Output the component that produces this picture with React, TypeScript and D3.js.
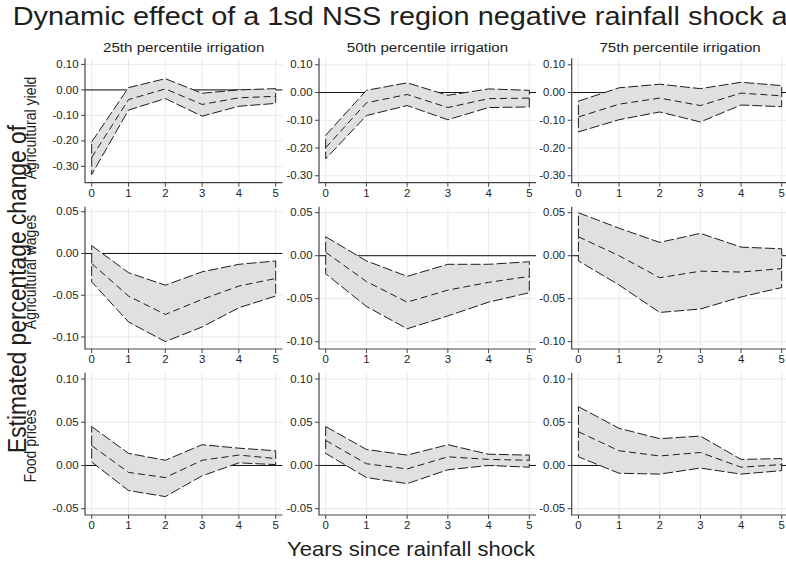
import React from "react";
import * as d3 from "d3";

// ---------- text ----------
const mainTitle = "Dynamic effect of a 1sd NSS region negative rainfall shock a";
const yTitle = "Estimated percentage change of";
const xTitle = "Years since rainfall shock";
const columnTitles = ["25th percentile irrigation", "50th percentile irrigation", "75th percentile irrigation"];
const rowTitles = ["Agricultural yield", "Agricultural wages", "Food prices"];

// ---------- x categories ----------
const years = [0, 1, 2, 3, 4, 5];

// ---------- y ticks per row ----------
const yieldTicks = [0.1, 0, -0.1, -0.2, -0.3];
const wagesTicks = [0.05, 0, -0.05, -0.1];
const pricesTicks = [0.1, 0.05, 0, -0.05];

// ---------- y ranges per panel ----------
const yieldDomains = [[-0.364, 0.124], [-0.325, 0.1234], [-0.325, 0.1234]];
const wagesDomains = [[-0.1144, 0.056], [-0.1085, 0.057], [-0.1085, 0.057]];
const pricesDomains = [[-0.0573, 0.1073], [-0.0573, 0.1073], [-0.0573, 0.1073]];

// ---------- Agricultural yield ----------
const yield25Upper = [-0.204, 0.009, 0.044, -0.013, 0.0, 0.005];
const yield25Mid = [-0.265, -0.038, 0.004, -0.057, -0.031, -0.025];
const yield25Lower = [-0.332, -0.079, -0.034, -0.103, -0.064, -0.053];

const yield50Upper = [-0.154, 0.008, 0.035, -0.01, 0.013, 0.008];
const yield50Mid = [-0.199, -0.037, -0.007, -0.054, -0.022, -0.02];
const yield50Lower = [-0.239, -0.083, -0.047, -0.098, -0.054, -0.052];

const yield75Upper = [-0.031, 0.017, 0.03, 0.014, 0.037, 0.025];
const yield75Mid = [-0.088, -0.042, -0.02, -0.047, -0.002, -0.012];
const yield75Lower = [-0.142, -0.098, -0.07, -0.106, -0.045, -0.051];

// ---------- Agricultural wages ----------
const wages25Upper = [0.0094, -0.023, -0.038, -0.022, -0.013, -0.009];
const wages25Mid = [-0.012, -0.051, -0.073, -0.055, -0.039, -0.03];
const wages25Lower = [-0.034, -0.082, -0.1055, -0.088, -0.065, -0.051];

const wages50Upper = [0.022, -0.006, -0.024, -0.01, -0.01, -0.007];
const wages50Mid = [0.004, -0.03, -0.054, -0.04, -0.031, -0.024];
const wages50Lower = [-0.021, -0.059, -0.085, -0.07, -0.054, -0.043];

const wages75Upper = [0.05, 0.032, 0.0155, 0.026, 0.01, 0.008];
const wages75Mid = [0.022, 0.0, -0.0256, -0.018, -0.019, -0.015];
const wages75Lower = [-0.006, -0.034, -0.066, -0.062, -0.048, -0.037];

// ---------- Food prices ----------
const prices25Upper = [0.045, 0.014, 0.006, 0.024, 0.02, 0.017];
const prices25Mid = [0.023, -0.008, -0.014, 0.006, 0.012, 0.008];
const prices25Lower = [0.004, -0.029, -0.036, -0.012, 0.003, 0.001];

const prices50Upper = [0.045, 0.0185, 0.012, 0.024, 0.013, 0.012];
const prices50Mid = [0.029, 0.002, -0.004, 0.01, 0.007, 0.006];
const prices50Lower = [0.014, -0.014, -0.021, -0.005, 0.0, -0.002];

const prices75Upper = [0.068, 0.043, 0.031, 0.034, 0.007, 0.008];
const prices75Mid = [0.039, 0.017, 0.011, 0.015, -0.002, 0.001];
const prices75Lower = [0.01, -0.009, -0.01, -0.003, -0.01, -0.006];

// ---------- assemble ----------
const rowsData = [
  {
    ticks: yieldTicks,
    domains: yieldDomains,
    panels: [
      [yield25Upper, yield25Mid, yield25Lower],
      [yield50Upper, yield50Mid, yield50Lower],
      [yield75Upper, yield75Mid, yield75Lower],
    ],
  },
  {
    ticks: wagesTicks,
    domains: wagesDomains,
    panels: [
      [wages25Upper, wages25Mid, wages25Lower],
      [wages50Upper, wages50Mid, wages50Lower],
      [wages75Upper, wages75Mid, wages75Lower],
    ],
  },
  {
    ticks: pricesTicks,
    domains: pricesDomains,
    panels: [
      [prices25Upper, prices25Mid, prices25Lower],
      [prices50Upper, prices50Mid, prices50Lower],
      [prices75Upper, prices75Mid, prices75Lower],
    ],
  },
];

// ---------- layout ----------
const W = 786;
const H = 563;
const SX = 1.12;
const FONT = "'Liberation Sans', Arial, Helvetica, sans-serif";
const cols = [
  { axisX: 85, right: 282.4 },
  { axisX: 319, right: 536 },
  { axisX: 571.7, right: 788.4 },
];
const rows = [
  { top: 58.3, bottom: 182.7, labelY: 128 },
  { top: 206.7, bottom: 349, labelY: 272 },
  { top: 372.7, bottom: 515, labelY: 446 },
];
const PAD = 6.7;
const INK = "#1e1e1e";

const fmt = d3
  .formatLocale({ decimal: ".", thousands: ",", grouping: [3], currency: ["", ""], minus: "-" })
  .format(".2f");

function SText(props: {
  x: number;
  y: number;
  size: number;
  anchor?: string;
  rotate?: number;
  fill?: string;
  children: React.ReactNode;
}) {
  const { x, y, size, anchor = "start", rotate = 0, fill = INK, children } = props;
  return (
    <text
      transform={`translate(${x},${y}) scale(${SX},1)${rotate ? ` rotate(${rotate})` : ""}`}
      fontSize={size}
      textAnchor={anchor as any}
      fill={fill}
      fontFamily={FONT}
    >
      {children}
    </text>
  );
}

function Panel({ r, c }: { r: number; c: number }) {
  const row = rows[r];
  const col = cols[c];
  const rd = rowsData[r];
  const [upper, mid, lower] = rd.panels[c];
  const dom = rd.domains[c];
  const x = d3.scaleLinear().domain([0, 5]).range([col.axisX + PAD, col.right - PAD]);
  const y = d3.scaleLinear().domain(dom).range([row.bottom, row.top]);

  const area = d3
    .area<number>()
    .x((d) => x(d))
    .y0((d, i) => y(lower[i]))
    .y1((d, i) => y(upper[i]));
  const line = d3
    .line<number>()
    .x((d) => x(d))
    .y((d, i) => y(mid[i]));

  return (
    <g>
      {years.map((t) => (
        <line key={"vx" + t} x1={x(t)} x2={x(t)} y1={row.top} y2={row.bottom} stroke="#e9e9e9" strokeWidth={1} />
      ))}
      {rd.ticks.map((t) => (
        <line key={"hy" + t} x1={col.axisX} x2={col.right} y1={y(t)} y2={y(t)} stroke="#e9e9e9" strokeWidth={1} />
      ))}
      <line x1={col.axisX} x2={col.right} y1={y(0)} y2={y(0)} stroke="#111" strokeWidth={1} />
      <path d={area(years) || ""} fill="#dfe0df" stroke={INK} strokeWidth={1} strokeDasharray="10,3" />
      <path d={line(years) || ""} fill="none" stroke={INK} strokeWidth={1} strokeDasharray="7,4" />
      <line x1={col.axisX} x2={col.axisX} y1={row.top} y2={row.bottom + 0.5} stroke="#444" strokeWidth={1.2} />
      <line x1={col.axisX} x2={col.right} y1={row.bottom} y2={row.bottom} stroke="#444" strokeWidth={1.2} />
      {rd.ticks.map((t) => (
        <g key={"yt" + t}>
          <line x1={col.axisX - 4} x2={col.axisX} y1={y(t)} y2={y(t)} stroke="#444" strokeWidth={1} />
          <SText x={col.axisX - 6.5} y={y(t) + 3.6} size={10.2} anchor="end">
            {fmt(t)}
          </SText>
        </g>
      ))}
      {years.map((t) => (
        <g key={"xt" + t}>
          <line x1={x(t)} x2={x(t)} y1={row.bottom} y2={row.bottom + 4} stroke="#444" strokeWidth={1} />
          <SText x={x(t)} y={row.bottom + 14} size={10.2} anchor="middle">
            {String(t)}
          </SText>
        </g>
      ))}
    </g>
  );
}

export default function App() {
  return (
    <svg
      width={W}
      height={H}
      viewBox={`0 0 ${W} ${H}`}
      style={{ position: "absolute", left: 0, top: 0, background: "#fff" }}
    >
      <rect x={0} y={0} width={W} height={H} fill="#fff" />
      <SText x={12.7} y={25} size={25.8}>
        {mainTitle}
      </SText>
      {columnTitles.map((t, c) => (
        <SText key={t} x={(cols[c].axisX + cols[c].right) / 2} y={52.3} size={13.5} anchor="middle">
          {t}
        </SText>
      ))}
      {rowTitles.map((t, r) => (
        <SText key={t} x={36} y={rows[r].labelY} size={14} anchor="middle" rotate={-90}>
          {t}
        </SText>
      ))}
      <SText x={25.5} y={289} size={22.8} anchor="middle" rotate={-90}>
        {yTitle}
      </SText>
      <SText x={411} y={556} size={19.7} anchor="middle">
        {xTitle}
      </SText>
      {rows.map((_, r) => cols.map((__, c) => <Panel key={r + "-" + c} r={r} c={c} />))}
    </svg>
  );
}
